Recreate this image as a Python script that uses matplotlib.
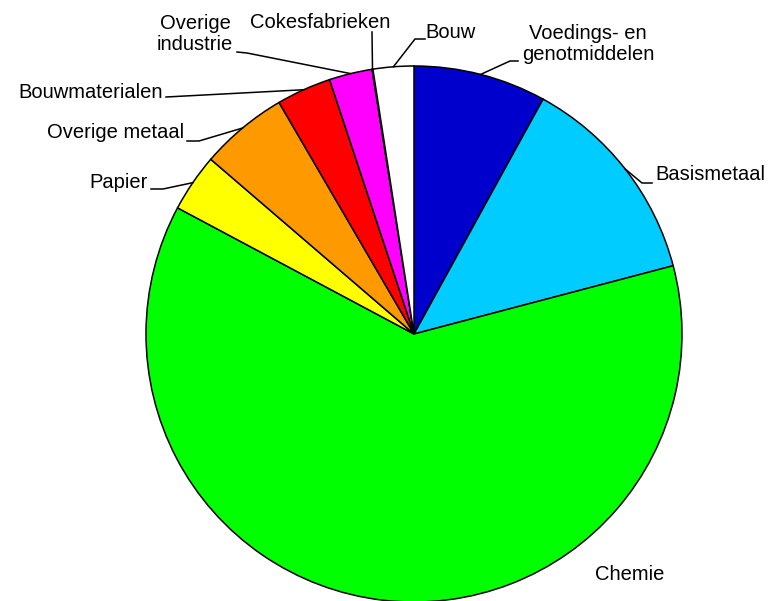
import numpy as np
import matplotlib.pyplot as plt

plt.rcParams['font.family'] = ['Liberation Sans', 'DejaVu Sans']

# data (clockwise from the top)
labels = ['Voedings- en\ngenotmiddelen', 'Basismetaal', 'Chemie', 'Papier',
          'Overige metaal', 'Bouwmaterialen', 'Overige\nindustrie',
          'Cokesfabrieken', 'Bouw']
shares = [8.0, 12.9, 61.9, 3.5, 5.3, 3.3, 2.6, 0.05, 2.45]
colors = ['#0000CC', '#00CCFF', '#00FF00', '#FFFF00', '#FF9900',
          '#FF0000', '#FF00FF', '#FFFFFF', '#FFFFFF']

H = 601
cx, cy, R = 414, H - 334, 268

fig = plt.figure(figsize=(7.7, 6.01), dpi=100)
ax = fig.add_axes([0, 0, 1, 1])
wedges, _ = ax.pie(shares, colors=colors, startangle=90, counterclock=False,
                   center=(cx, cy), radius=R,
                   wedgeprops=dict(edgecolor='black', linewidth=1.1))
ax.set_xlim(0, 770)
ax.set_ylim(0, H)
ax.set_aspect('equal')
ax.axis('off')

# label placement: (text x, text y, ha, leader start, elbow) in pixel coords
place = [
    (588, 44, 'center', (518, 61), (510, 61)),
    (655, 175, 'left', (652, 183), (642, 183)),
    (595, 574, 'left', None, None),
    (148, 183, 'right', (151, 189), (163, 189)),
    (184, 133, 'right', (187, 141), (199, 141)),
    (163, 92, 'right', (166, 97), None),
    (195, 34, 'center', (237, 52), (247, 53)),
    (320, 22, 'center', (372, 32), None),
    (425, 33, 'left', (425, 39), (415, 39)),
]

for w, lab, (tx, ty, ha, start, elbow) in zip(wedges, labels, place):
    ax.text(tx, H - ty, lab, ha=ha, va='center', fontsize=14.5,
            linespacing=1.15)
    if start is None:
        continue
    mid = np.radians((w.theta1 + w.theta2) / 2)
    rim = (cx + R * np.cos(mid), cy + R * np.sin(mid))
    pts = [start] + ([elbow] if elbow else [])
    xs = [p[0] for p in pts] + [rim[0]]
    ys = [H - p[1] for p in pts] + [rim[1]]
    ax.plot(xs, ys, color='black', linewidth=1.1)

fig.savefig('out.png', dpi=100)
